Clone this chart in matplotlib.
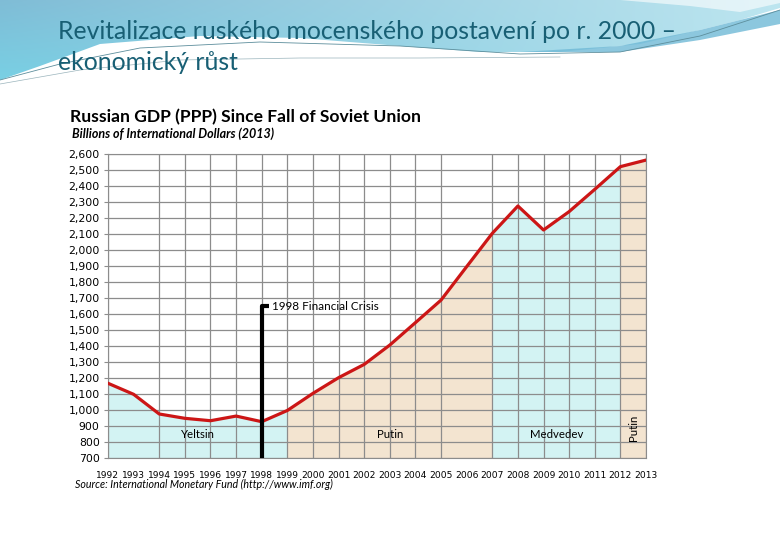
import numpy as np
import matplotlib.pyplot as plt
from matplotlib.patches import Polygon

# data
years = list(range(1992, 2014))
gdp = [1167, 1098, 975, 948, 933, 962, 927, 997, 1104, 1202, 1285, 1406,
       1546, 1687, 1896, 2104, 2275, 2125, 2240, 2379, 2521, 2562]
term_names = ["Yeltsin", "Putin", "Medvedev", "Putin"]
term_start = [1992, 1999, 2007, 2012]
term_end = [1999, 2007, 2012, 2013]
yticks = list(range(700, 2700, 100))
crisis_year = 1998
crisis_level = 1650

cyan = "#d3f3f3"
tan = "#f3e4d0"
grid_col = "#8c8c8c"
term_colors = [cyan, tan, cyan, tan]

fig = plt.figure(figsize=(7.8, 5.4), dpi=100)
fig.patch.set_facecolor("white")

# slide decoration in pixel coordinates
bg = fig.add_axes([0, 0, 1, 1], zorder=-5)
bg.set_xlim(0, 780)
bg.set_ylim(540, 0)
bg.axis("off")

edge_x = [0, 40, 100, 200, 300, 400, 480, 560, 640, 700, 740, 780]
edge_y = [80, 66, 44, 36, 38, 46, 52, 52, 44, 30, 20, 8]
poly = Polygon(list(zip([0] + edge_x + [780], [0] + edge_y + [0])),
               closed=True, facecolor="none", edgecolor="none")
bg.add_patch(poly)
gx, gy = np.meshgrid(np.linspace(0, 1, 200), np.linspace(0, 1, 60))
c_left = np.array([0.50, 0.74, 0.84])
c_right = np.array([0.74, 0.90, 0.94])
c_low = np.array([0.45, 0.88, 0.94])
img = (c_left[None, None, :] * (1 - gx[..., None]) + c_right[None, None, :] * gx[..., None])
mix = (gy * (1 - gx))[..., None] * 0.6
img = img * (1 - mix) + c_low[None, None, :] * mix
im = bg.imshow(np.clip(img, 0, 1), extent=[0, 780, 90, 0], aspect="auto")
im.set_clip_path(poly)

# darker band at upper right and light streak
band = Polygon([(520, 52), (620, 46), (700, 30), (780, 10), (780, 24), (700, 40), (620, 52)],
               closed=True, facecolor="#6fb9d6", edgecolor="none", alpha=0.8)
bg.add_patch(band)
streak = Polygon([(620, 0), (690, 6), (740, 12), (780, 3), (780, 0)],
                 closed=True, facecolor="white", edgecolor="none", alpha=0.6)
bg.add_patch(streak)
bg.plot([0, 60, 140, 260, 400, 520, 620, 700, 780],
        [80, 64, 48, 42, 46, 54, 52, 36, 10], color="#5d8e9c", lw=0.6)
bg.plot([0, 80, 180, 300, 420, 560], [84, 70, 60, 58, 58, 57], color="#9ab4bc", lw=0.5)

fig.text(0.074, 0.942, "Revitalizace ruského mocenského postavení po r. 2000 –",
         fontsize=17.8, family="Lato", color="#185f74", va="center")
fig.text(0.074, 0.884, "ekonomický růst",
         fontsize=17.8, family="Lato", color="#185f74", va="center")

# chart
ax = fig.add_axes([108 / 780, 1 - 458 / 540, 538 / 780, 304 / 540])
ax.set_xlim(1992, 2013)
ax.set_ylim(700, 2600)

x = np.array(years)
y = np.array(gdp)
for s, e, c in zip(term_start, term_end, term_colors):
    m = (x >= s) & (x <= e)
    ax.fill_between(x[m], 700, y[m], color=c, lw=0, zorder=1)

for v in yticks:
    ax.axhline(v, color=grid_col, lw=0.9, zorder=2)
for yr in years:
    if yr in (1993, 2006):
        continue
    ax.axvline(yr, color=grid_col, lw=0.9, zorder=2)

ax.plot(x, y, color="#cc1616", lw=2.3, zorder=4)

ax.plot([crisis_year, crisis_year, crisis_year + 0.3], [700, crisis_level, crisis_level],
        color="black", lw=3, zorder=5, solid_capstyle="butt")
ax.text(crisis_year + 0.42, crisis_level, "1998 Financial Crisis", fontsize=8.4,
        family="Lato", va="center", ha="left", zorder=6)

for name, s, e in zip(term_names, term_start, term_end):
    if e - s > 1:
        ax.text((s + e) / 2, 850, name, fontsize=8.2, family="Lato", ha="center",
                va="center", zorder=6)
    else:
        ax.text((s + e) / 2, 890, name, fontsize=8.2, family="Lato", ha="center",
                va="center", rotation=90, zorder=6)

for sp in ax.spines.values():
    sp.set_color(grid_col)
ax.set_yticks(yticks)
ax.set_yticklabels([f"{v:,}" for v in yticks], fontsize=7.8, family="DejaVu Sans")
ax.set_xticks(years)
ax.set_xticklabels([str(v) for v in years], fontsize=6.6, family="DejaVu Sans")
ax.tick_params(axis="y", length=3, color=grid_col, pad=3)
ax.tick_params(axis="x", length=0, pad=9)

fig.text(70 / 780, 1 - 117 / 540, "Russian GDP (PPP) Since Fall of Soviet Union",
         fontsize=12.6, family="Lato", weight="bold", va="center")
fig.text(72 / 780, 1 - 134 / 540, "Billions of International Dollars (2013)",
         fontsize=9, family="Lato", weight="bold", style="italic", va="center")
fig.text(75 / 780, 1 - 484 / 540, "Source: International Monetary Fund (http://www.imf.org)",
         fontsize=7.7, family="Lato", style="italic", va="center")

fig.savefig("out.png", dpi=100)
